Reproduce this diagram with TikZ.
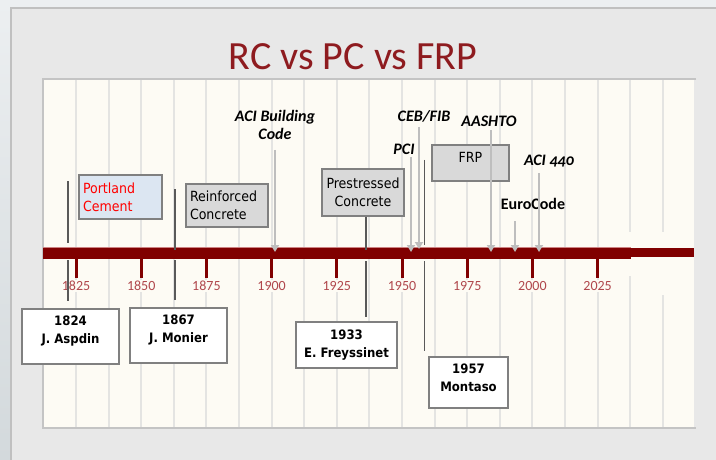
\documentclass[tikz,border=0pt]{standalone}
\usepackage{fontspec}
\setmainfont{Carlito}
\newfontfamily\boxfont{DejaVu Sans Condensed}
\newfontfamily\oldnums{Carlito}[Numbers=OldStyle]
\usetikzlibrary{arrows.meta}

\definecolor{slidegray}{RGB}{232,232,232}
\definecolor{stripgray}{RGB}{236,239,241}
\definecolor{sidegray}{RGB}{211,217,220}
\definecolor{framegray}{RGB}{192,192,192}
\definecolor{panelcream}{RGB}{253,251,244}
\definecolor{panelline}{RGB}{196,196,196}
\definecolor{gridgray}{RGB}{228,228,226}
\definecolor{barred}{RGB}{128,0,0}
\definecolor{barpink}{RGB}{205,130,130}
\definecolor{yearred}{RGB}{176,71,76}
\definecolor{titlered}{RGB}{142,27,31}
\definecolor{stemgray}{RGB}{89,89,89}
\definecolor{pointergray}{RGB}{190,190,190}
\definecolor{boxfill}{RGB}{217,217,217}
\definecolor{boxedge}{RGB}{128,128,128}
\definecolor{paleblue}{RGB}{220,230,242}

\tikzset{
  gridline/.style={draw=gridgray, line width=2pt},
  eventbox/.style={draw=boxedge, line width=1.2pt, fill=boxfill, inner xsep=4pt, inner ysep=2pt,
    font=\boxfont\fontsize{14}{18}\selectfont},
  namebox/.style={draw=boxedge, line width=1.2pt, fill=white, align=center, inner sep=2pt,
    font=\boxfont\bfseries\fontsize{13}{18}\selectfont},
  codelabel/.style={font=\bfseries\itshape\fontsize{16}{18}\selectfont, align=center, inner sep=1pt},
  yearlabel/.style={text=yearred, fill=panelcream, inner sep=1pt, font=\fontsize{14}{14}\selectfont},
  stem/.style={draw=stemgray, line width=1.6pt},
  pointer/.style={draw=pointergray, line width=2pt, -{Triangle[length=7pt,width=8pt]}}
}

\begin{document}
\begin{tikzpicture}[x=1pt,y=-1pt]
\useasboundingbox (0,0) rectangle (716,460);

% slide background
\fill[slidegray] (0,0) rectangle (716,460);
\fill[stripgray] (0,0) rectangle (716,7);
\shade[top color=stripgray, bottom color=sidegray] (0,0) rectangle (10,460);
\draw[framegray, line width=2pt] (11,460) -- (11,8) -- (716,8);

\node[text=titlered, font=\fontsize{40}{40}\selectfont, inner sep=0pt] (title) at (353,57) {RC vs PC vs FRP};

% panel and grid
\fill[panelcream] (43,79) rectangle (694,428);
\foreach \k in {1,...,19}
  \draw[gridline] ({43.4+32.6*\k},80) -- ({43.4+32.6*\k},427);
\fill[panelcream] (622,232) rectangle (694,248);
\fill[panelcream] (622,259) rectangle (640,276);
\fill[panelcream] (640,257) rectangle (694,295);
\draw[panelline, line width=2pt] (696,79) -- (43,79) -- (43,428) -- (696,428);

% time axis
\fill[barred] (43,248) rectangle (631,259);
\fill[barred] (631,248) rectangle (694,257);
\draw[barpink, line width=0.8pt] (43,247.6) -- (631,247.6);
\foreach \yr [count=\i from 0] in {1825,1850,...,2025} {
  \fill[barred] ({76+65.2*\i-1.5},259) rectangle ({76+65.2*\i+1.5},278);
  \node[yearlabel] (yr\yr) at ({76+65.2*\i},286) {\yr};
}

% events above the axis
\node[eventbox, fill=paleblue, text=red, text width=75pt, align=left, minimum height=44pt] (portland) at (120.5,197) {Portland\\Cement};
\node[eventbox, text width=74pt, align=left, minimum height=43pt] (reinforced) at (227,205.5) {Reinforced\\Concrete};
\node[eventbox, text width=74pt, align=center, minimum height=47pt] (prestressed) at (363,192.5) {Prestressed\\Concrete};
\node[eventbox, text width=69pt, align=center, minimum height=36pt, text height=10pt, text depth=10pt] (frp) at (470.5,163) {FRP};

\node[codelabel] (aci) at (275,125) {ACI Building\\Code};
\node[codelabel] (pci) at (404,149) {PCI};
\node[codelabel] (cebfib) at (424,116) {CEB/FIB};
\node[codelabel] (aashto) at (489,121) {AASHTO};
\node[codelabel, font=\bfseries\fontsize{16}{18}\selectfont] (eurocode) at (533,204) {EuroCode};
\node[codelabel, font=\oldnums\bfseries\itshape\fontsize{16}{18}\selectfont] (aci440) at (549,161) {ACI 440};

% people below the axis
\node[namebox, minimum width=97pt, minimum height=55pt, text depth=14pt] (aspdin) at (70.5,336.5) {1824\\J. Aspdin};
\node[namebox, minimum width=97pt, minimum height=55pt, text depth=14pt] (monier) at (178.5,335.5) {1867\\J. Monier};
\node[namebox, minimum width=101pt, minimum height=46pt] (freyssinet) at (346.5,345) {1933\\E. Freyssinet};
\node[namebox, minimum width=79pt, minimum height=51pt, text depth=10pt] (montaso) at (468.5,382.5) {1957\\Montaso};

% stems
\coordinate (aspdinHigh) at (68,181);
\coordinate (aspdinUp) at (68,243);
\coordinate (aspdinLow) at (68,260);
\coordinate (monierHigh) at (175,189);
\coordinate (monierUp) at (175,250);
\coordinate (monierLow) at (175,260);
\coordinate (freyUp) at (366,250);
\coordinate (freyLow) at (366,261);
\coordinate (montasoHigh) at (424.5,160);
\coordinate (montasoUp) at (424.5,245);
\coordinate (montasoLow) at (424.5,261);

\draw[stem] (aspdinHigh) -- (aspdinUp);
\draw[stem, shorten >=7pt] (aspdinLow) -- (aspdin.north -| aspdinLow);
\draw[stem] (monierHigh) -- (monierUp);
\draw[stem, shorten >=7pt] (monierLow) -- (monier.north -| monierLow);
\draw[stem] (prestressed.south -| freyUp) -- (freyUp);
\draw[stem, shorten >=4pt] (freyLow) -- (freyssinet.north -| freyLow);
\draw[stem] (montasoHigh) -- (montasoUp);
\draw[stem, shorten >=5pt] (montasoLow) -- (montaso.north -| montasoLow);

% code arrows
\coordinate (aciTop) at (275,150);
\coordinate (aciPt) at (275,252);
\coordinate (pciTop) at (411,157);
\coordinate (pciPt) at (411,252);
\coordinate (cebTop) at (419,127);
\coordinate (cebPt) at (419,249);
\coordinate (aashtoTop) at (491,130);
\coordinate (aashtoPt) at (491,252);
\coordinate (euroTop) at (515,221);
\coordinate (euroPt) at (515,252);
\coordinate (aci440Top) at (539,173);
\coordinate (aci440Pt) at (539,252);

\draw[pointer] (aciTop) -- (aciPt);
\draw[pointer] (pciTop) -- (pciPt);
\draw[pointer] (cebTop) -- (cebPt);
\draw[pointer] (aashtoTop) -- (aashtoPt);
\draw[pointer] (euroTop) -- (euroPt);
\draw[pointer] (aci440Top) -- (aci440Pt);
\end{tikzpicture}
\end{document}
